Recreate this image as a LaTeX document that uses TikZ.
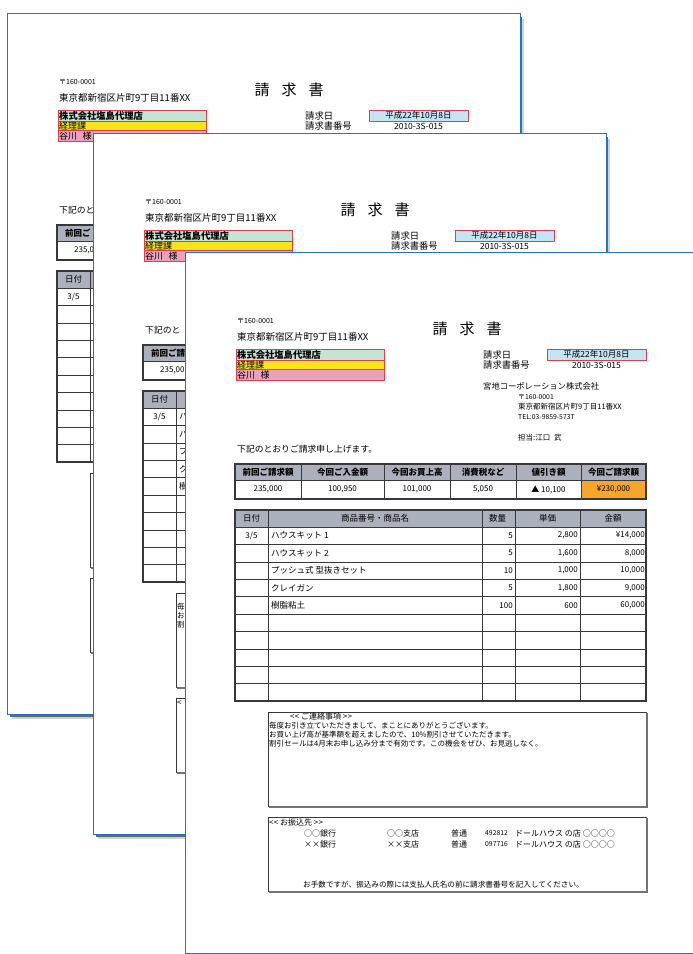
\documentclass[tikz,border=0pt]{standalone}
\usepackage{fontspec}
\setmainfont{Noto Sans CJK JP}

\definecolor{pageblue}{RGB}{35,115,195}
\definecolor{headgray}{RGB}{170,176,188}
\definecolor{rowgreen}{RGB}{198,228,212}
\definecolor{rowyellow}{RGB}{248,228,25}
\definecolor{rowpink}{RGB}{236,160,188}
\definecolor{dateblue}{RGB}{196,228,244}
\definecolor{totalorange}{RGB}{245,165,40}
\definecolor{boxred}{RGB}{215,65,75}
\definecolor{gridgray}{RGB}{55,55,60}

\newcommand{\fsz}[1]{\fontsize{#1}{#1}\selectfont}
\newcommand{\ltlt}{<\kern0.2pt<}
\newcommand{\gtgt}{>\kern0.2pt>}

\tikzset{
  txt/.style={anchor=west, inner sep=0pt},
  numtxt/.style={anchor=east, inner sep=0pt, font=\fsz{8}},
  hd/.style={inner sep=0pt, font=\fsz{8.5}\bfseries},
  grid/.style={draw=gridgray, line width=0.6pt},
  frame/.style={draw=gridgray, line width=1.3pt},
  boxline/.style={draw=gridgray, line width=0.7pt},
}

% sheet, shadow, coloured boxes and table rules
\newcommand{\sheet}{%
\fill[black!18] (5,6) rectangle (517,706);
\fill[black!60] (3,4) rectangle (515,704);
\filldraw[fill=white, draw=pageblue, line width=1pt] (0,0) rectangle (513,701);
\filldraw[fill=rowgreen, draw=boxred] (51,97) rectangle (199,108);
\filldraw[fill=rowyellow, draw=boxred] (51,108) rectangle (199,117.5);
\filldraw[fill=rowpink, draw=boxred] (51,117.5) rectangle (199,128);
\filldraw[fill=dateblue, draw=boxred] (362,97) rectangle (461,108);
% summary table
\fill[headgray] (50,212) rectangle (461,228);
\filldraw[fill=totalorange, draw=boxred!60!orange] (396,228) rectangle (461,247);
\foreach \x in {116,199,265,331,396} \draw[grid] (\x,212) -- (\x,247);
\draw[grid] (50,228) -- (461,228);
\draw[frame] (50,212) rectangle (461,247);
% item table
\fill[headgray] (50,258) rectangle (461,275);
\foreach \x in {83,297,330,395} \draw[grid] (\x,258) -- (\x,449);
\foreach \k in {0,...,9} \draw[grid] (50,275+17.4*\k) -- (461,275+17.4*\k);
\draw[frame] (50,258) rectangle (461,449);
% notes and bank boxes
\draw[boxline] (83,460) rectangle (461,554);
\draw[black!55, line width=1.2pt] (84,555) -- (462,555) -- (462,461);
\draw[boxline] (83,565) rectangle (461,639);
\draw[black!55, line width=1.2pt] (84,640) -- (462,640) -- (462,566);
}

% texts of the top strip, shown on every sheet
\newcommand{\sheethead}{%
\node[txt, font=\fsz{7}] (zip) at (52,69) {〒160-0001};
\node[txt, font=\fsz{9.5}] (addr) at (52,85) {東京都新宿区片町9丁目11番XX};
\node[txt, font=\fsz{9.3}\bfseries] (firm) at (52,102.5) {株式会社塩島代理店};
\node[txt, font=\fsz{9}] (dept) at (52,112.8) {経理課};
\node[txt, font=\fsz{9}] (person) at (52,122.8) {谷川\hspace{0.6em}様};
\node[inner sep=0pt, font=\fsz{15}] (title) at (282,77) {請\hspace{0.8em}求\hspace{0.8em}書};
\node[txt, font=\fsz{9.3}] (dlabel) at (298,102.5) {請求日};
\node[txt, font=\fsz{9.3}] (nlabel) at (298,113) {請求書番号};
\node[inner sep=0pt, font=\fsz{8.5}] (date) at (411.5,102.5) {平成22年10月8日};
\node[inner sep=0pt, font=\fsz{8.5}] (number) at (411.5,113) {2010-3S-015};
}

% the rest of the texts, shown on the front sheet only
\newcommand{\sheetbody}{%
\node[txt, font=\fsz{8.3}] (sender) at (298,134) {宮地コーポレーション株式会社};
\node[txt, font=\fsz{6.8}] (szip) at (333,145) {〒160-0001};
\node[txt, font=\fsz{7.5}] (saddr) at (333,155) {東京都新宿区片町9丁目11番XX};
\node[txt, font=\fsz{6.8}] (stel) at (333,165) {TEL:03-9859-573T};
\node[txt, font=\fsz{7.5}] (staff) at (333,186) {担当:江口\hspace{0.5em}武};
\node[txt, font=\fsz{8.8}] (intro) at (52,197) {下記のとおりご請求申し上げます。};
\foreach \cx/\t [count=\i] in {83/前回ご請求額, 157.5/今回ご入金額, 232/今回お買上高, 298/消費税など, 363.5/値引き額, 428.5/今回ご請求額}
  \node[hd] (sumhead-\i) at (\cx,220) {\t};
\foreach \cx/\t [count=\i] in {83/{235,000}, 157.5/{100,950}, 232/{101,000}, 298/{5,050}, 363.5/{▲ 10,100}, 428.5/{¥230,000}}
  \node[inner sep=0pt, font=\fsz{8}] (sumval-\i) at (\cx,237.5) {\t};
\foreach \cx/\t [count=\i] in {66.5/日付, 190/商品番号・商品名, 312.5/数量, 362.5/単価, 428/金額}
  \node[inner sep=0pt, font=\fsz{8.5}] (itemhead-\i) at (\cx,266.5) {\t};
\foreach \d/\n/\q/\p/\a [count=\i] in {{3/5}/{ハウスキット 1}/5/{2,800}/{¥14,000},
    {}/{ハウスキット 2}/5/{1,600}/{8,000},
    {}/{プッシュ式 型抜きセット}/10/{1,000}/{10,000},
    {}/{クレイガン}/5/{1,800}/{9,000},
    {}/{樹脂粘土}/100/600/{60,000}}
{
  \node[inner sep=0pt, font=\fsz{8}] (date-\i) at (66.5,266.3+17.4*\i) {\d};
  \node[txt, font=\fsz{8.5}] (name-\i) at (86,266.3+17.4*\i) {\n};
  \node[numtxt] (qty-\i) at (328,266.3+17.4*\i) {\q};
  \node[numtxt] (price-\i) at (393,266.3+17.4*\i) {\p};
  \node[numtxt] (amount-\i) at (460,266.3+17.4*\i) {\a};
}
\node[txt, font=\fsz{8}] (notehead) at (105,464) {\ltlt\ ご連絡事項 \gtgt};
\node[txt, font=\fsz{7.5}] (note-1) at (84,474) {毎度お引き立ていただきまして、まことにありがとうございます。};
\node[txt, font=\fsz{7.5}] (note-2) at (84,483) {お買い上げ高が基準額を超えましたので、10\%割引させていただきます。};
\node[txt, font=\fsz{7.5}] (note-3) at (84,492) {割引セールは4月末お申し込み分まで有効です。この機会をぜひ、お見逃しなく。};
\node[txt, font=\fsz{8}] (bankhead) at (84,570) {\ltlt\ お振込先 \gtgt};
\foreach \y/\b/\s/\n [count=\i] in {581/○○銀行/○○支店/492812, 592/××銀行/××支店/097716}
{
  \node[txt, font=\fsz{8}] (bank-\i) at (119,\y) {\b};
  \node[txt, font=\fsz{8}] (branch-\i) at (202,\y) {\s};
  \node[txt, font=\fsz{8}] (kind-\i) at (266,\y) {普通};
  \node[txt, font=\fsz{6.8}] (acct-\i) at (300,\y) {\n};
  \node[txt, font=\fsz{8}] (holder-\i) at (330,\y) {ドールハウス の店 ○○○○};
}
\node[txt, font=\fsz{7.6}] (banknote) at (118,633) {お手数ですが、振込みの際には支払人氏名の前に請求書番号を記入してください。};
}

\begin{document}
\begin{tikzpicture}[x=1pt, y=-1pt]
\useasboundingbox (0,0) rectangle (693,954);
\clip (0,0) rectangle (693,954);
\fill[white] (0,0) rectangle (693,954);

% back sheet
\begin{scope}[shift={(7,13)}, name prefix=back-]
\sheet
\sheethead
% what is left of it beside the middle sheet
\node[txt, font=\fsz{8.8}] (intro) at (52,197) {下記のと};
\node[hd, anchor=west] (sumhead-1) at (58,220) {前回ご};
\node[txt, font=\fsz{8}] (sumval-1) at (67,237.5) {235,0};
\node[inner sep=0pt, font=\fsz{8.5}] (itemhead-1) at (66.5,266.5) {日付};
\node[inner sep=0pt, font=\fsz{8}] (date-1) at (66.5,283.7) {3/5};
\end{scope}

% middle sheet
\begin{scope}[shift={(93,133)}, name prefix=middle-]
\sheet
\sheethead
% what is left of it beside the front sheet
\node[txt, font=\fsz{8.8}] (intro) at (52,197) {下記のと};
\node[hd, anchor=west] (sumhead-1) at (58,220) {前回ご請};
\node[txt, font=\fsz{8}] (sumval-1) at (67,237.5) {235,00};
\node[inner sep=0pt, font=\fsz{8.5}] (itemhead-1) at (66.5,266.5) {日付};
\node[inner sep=0pt, font=\fsz{8}] (date-1) at (66.5,283.7) {3/5};
\foreach \n [count=\i] in {ハ,ハ,プ,ク,樹}
  \node[txt, font=\fsz{8.5}] (name-\i) at (86,266.3+17.4*\i) {\n};
\foreach \n [count=\i] in {毎,お,割}
  \node[txt, font=\fsz{7.5}] (note-\i) at (84,465+9*\i) {\n};
\node[txt, font=\fsz{8}] (bankhead) at (84,570) {<};
\end{scope}

% front sheet
\begin{scope}[shift={(185,252)}, name prefix=front-]
\sheet
\sheethead
\sheetbody
\end{scope}
\end{tikzpicture}
\end{document}
